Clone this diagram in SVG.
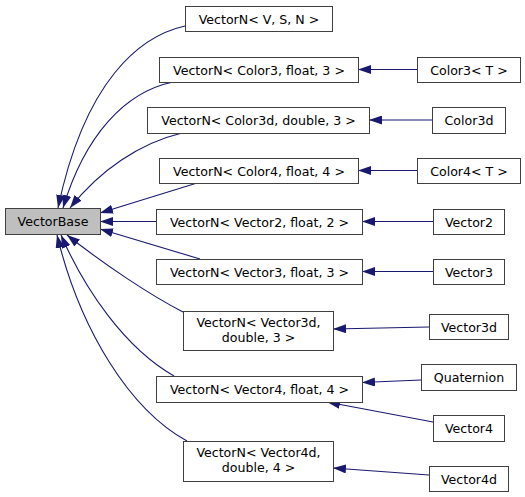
<svg xmlns="http://www.w3.org/2000/svg" width="525" height="497" viewBox="0 0 525 497">
<defs>
<marker id="ah" viewBox="0 0 13 9" refX="13" refY="4.5" markerWidth="13" markerHeight="9" markerUnits="userSpaceOnUse" orient="auto">
<path d="M0,0 L13,4.5 L0,9 z" fill="#191970"/>
</marker>
<style>
rect{fill:#ffffff;stroke:#404040;stroke-width:1}
#VectorBase rect{fill:#bfbfbf}
text{font-family:"DejaVu Sans","Liberation Sans",sans-serif;font-size:12.6px;fill:#000000;text-anchor:middle}
#edges path{fill:none;stroke:#191970;stroke-width:1.1;marker-end:url(#ah)}
</style>
</defs>
<rect x="0" y="0" width="525" height="497" style="fill:#ffffff;stroke:none"/>
<g id="edges">
<path d="M185,26 C140,36 85,80 58,208"/>
<path d="M173,82 C125,92 85,135 63,208"/>
<path d="M182,133 C140,143 100,170 70,208"/>
<path d="M197,183 L100,213"/>
<path d="M156,221.5 L100,221.5"/>
<path d="M200,259 L100,229"/>
<path d="M183,312 C150,295 105,265 67,235"/>
<path d="M174,376 C125,348 85,290 61,235"/>
<path d="M187,441 C130,410 80,330 57,235"/>
<path d="M417,69.5 L358,69.5"/>
<path d="M432,120 L369,120"/>
<path d="M417,170.5 L358,170.5"/>
<path d="M433,221.5 L362,221.5"/>
<path d="M433,271.5 L362,271.5"/>
<path d="M429,327 L333,329"/>
<path d="M421,380 L362,382.5"/>
<path d="M433,422 L327,402"/>
<path d="M429,475 L333,468"/>
</g>
<g id="VectorBase"><rect x="5.5" y="208.5" width="95" height="26"/><text x="53" y="226">VectorBase</text></g>
<g id="VectorN_VSN"><rect x="185.5" y="6.5" width="147" height="25"/><text x="259" y="23.5">VectorN&lt; V, S, N &gt;</text></g>
<g id="VectorN_Color3"><rect x="159.5" y="57.5" width="199" height="25"/><text x="259" y="74.5">VectorN&lt; Color3, float, 3 &gt;</text></g>
<g id="VectorN_Color3d"><rect x="147.5" y="107.5" width="222" height="26"/><text x="258.5" y="125">VectorN&lt; Color3d, double, 3 &gt;</text></g>
<g id="VectorN_Color4"><rect x="159.5" y="158.5" width="199" height="25"/><text x="259" y="175.5">VectorN&lt; Color4, float, 4 &gt;</text></g>
<g id="VectorN_Vector2"><rect x="156.5" y="209.5" width="206" height="25"/><text x="259.5" y="226.5">VectorN&lt; Vector2, float, 2 &gt;</text></g>
<g id="VectorN_Vector3"><rect x="156.5" y="259.5" width="206" height="25"/><text x="259.5" y="276.5">VectorN&lt; Vector3, float, 3 &gt;</text></g>
<g id="VectorN_Vector3d"><rect x="183.5" y="311.5" width="150" height="39"/><text x="258.5" y="326.5">VectorN&lt; Vector3d,</text><text x="258.5" y="341.5">double, 3 &gt;</text></g>
<g id="VectorN_Vector4"><rect x="156.5" y="376.5" width="206" height="26"/><text x="259.5" y="394">VectorN&lt; Vector4, float, 4 &gt;</text></g>
<g id="VectorN_Vector4d"><rect x="183.5" y="441.5" width="150" height="40"/><text x="258.5" y="457">VectorN&lt; Vector4d,</text><text x="258.5" y="472">double, 4 &gt;</text></g>
<g id="Color3T"><rect x="417.5" y="57.5" width="103" height="25"/><text x="469" y="74.5">Color3&lt; T &gt;</text></g>
<g id="Color3d"><rect x="432.5" y="107.5" width="73" height="26"/><text x="469" y="125">Color3d</text></g>
<g id="Color4T"><rect x="417.5" y="158.5" width="103" height="25"/><text x="469" y="175.5">Color4&lt; T &gt;</text></g>
<g id="Vector2"><rect x="433.5" y="209.5" width="71" height="25"/><text x="469" y="226.5">Vector2</text></g>
<g id="Vector3"><rect x="433.5" y="259.5" width="71" height="25"/><text x="469" y="276.5">Vector3</text></g>
<g id="Vector3d"><rect x="429.5" y="314.5" width="79" height="25"/><text x="469" y="331.5">Vector3d</text></g>
<g id="Quaternion"><rect x="421.5" y="364.5" width="95" height="26"/><text x="469" y="382">Quaternion</text></g>
<g id="Vector4"><rect x="433.5" y="415.5" width="71" height="26"/><text x="469" y="433">Vector4</text></g>
<g id="Vector4d"><rect x="429.5" y="466.5" width="79" height="25"/><text x="469" y="483.5">Vector4d</text></g>
</svg>
